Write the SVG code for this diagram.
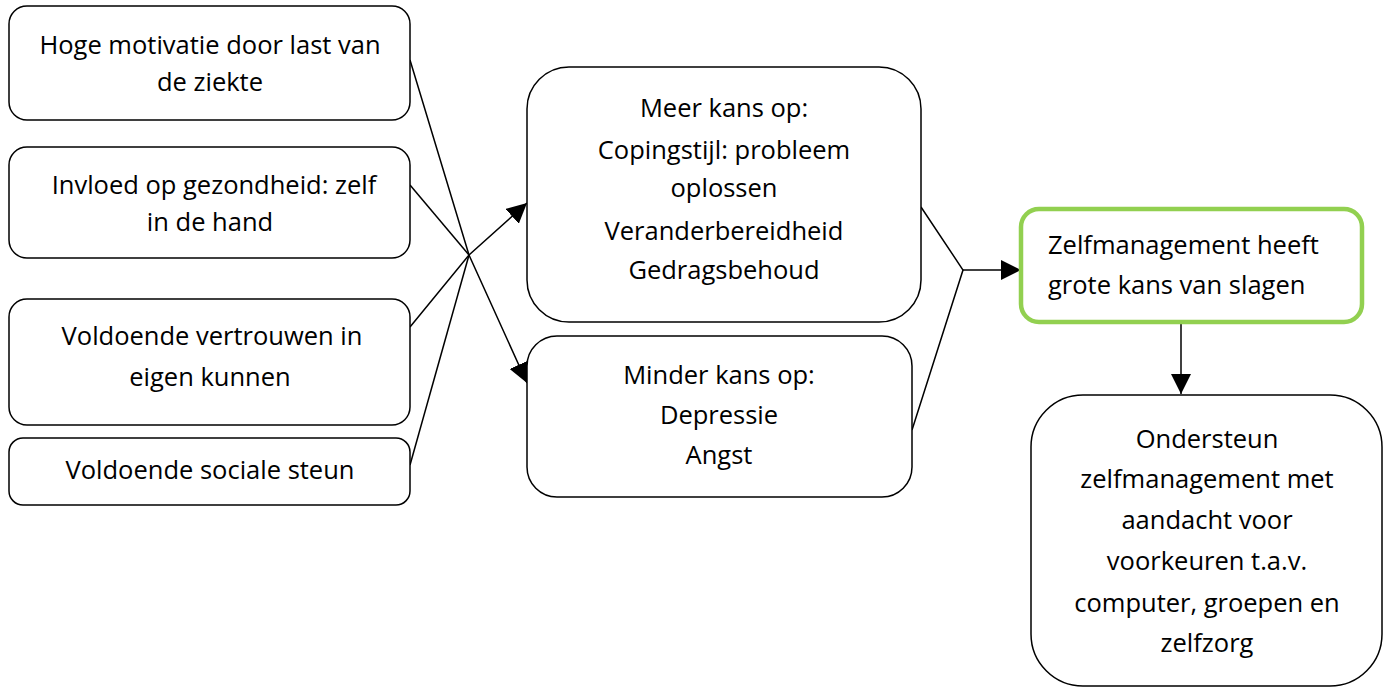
<svg xmlns="http://www.w3.org/2000/svg" width="1387" height="688" viewBox="0 0 1387 688">
<style>
.box{fill:#fff;stroke:#000;stroke-width:1.5}
.green{fill:#fff;stroke:#92D050;stroke-width:4.5}
text{font-family:"Open Sans","Liberation Sans",sans-serif;font-size:25.5px;fill:#000;text-anchor:middle}
.left{text-anchor:start}
.ln{fill:none;stroke:#000;stroke-width:1.5}
</style>
<defs>
<marker id="ah" viewBox="0 0 10 10" refX="10" refY="5" markerWidth="20" markerHeight="20" markerUnits="userSpaceOnUse" orient="auto">
<path d="M0,0 L10,5 L0,10 Z" fill="#000"/>
</marker>
</defs>
<g id="connectors">
<polyline class="ln" points="410,60 469,255 527,383" marker-end="url(#ah)"/>
<polyline class="ln" points="410,327 469,255 527,203" marker-end="url(#ah)"/>
<line class="ln" x1="410" y1="185" x2="469" y2="255"/>
<line class="ln" x1="410" y1="465" x2="469" y2="255"/>
<polyline class="ln" points="921,207 963,270 912,430"/>
<line class="ln" x1="963" y1="270" x2="1021" y2="270" marker-end="url(#ah)"/>
<line class="ln" x1="1181" y1="322" x2="1181" y2="394" marker-end="url(#ah)"/>
</g>
<g id="n1"><rect class="box" x="9" y="6" width="401" height="114" rx="18"/>
<text x="210" y="54">Hoge motivatie door last van</text><text x="210" y="91">de ziekte</text></g>
<g id="n2"><rect class="box" x="9" y="147" width="401" height="111" rx="18"/>
<text x="214" y="194">Invloed op gezondheid: zelf</text><text x="210" y="231">in de hand</text></g>
<g id="n3"><rect class="box" x="9" y="299" width="401" height="126" rx="18"/>
<text x="212" y="345">Voldoende vertrouwen in</text><text x="210" y="386">eigen kunnen</text></g>
<g id="n4"><rect class="box" x="9" y="438" width="401" height="67" rx="14"/>
<text x="210" y="479">Voldoende sociale steun</text></g>
<g id="n5"><rect class="box" x="527" y="67" width="394" height="255" rx="42"/>
<text x="724" y="117">Meer kans op:</text><text x="724" y="159">Copingstijl: probleem</text><text x="724" y="197">oplossen</text><text x="724" y="240">Veranderbereidheid</text><text x="724" y="279">Gedragsbehoud</text></g>
<g id="n6"><rect class="box" x="527" y="336" width="385" height="161" rx="30"/>
<text x="719" y="384">Minder kans op:</text><text x="719" y="424">Depressie</text><text x="719" y="464">Angst</text></g>
<g id="n7"><rect class="green" x="1021" y="209" width="341" height="113" rx="18"/>
<text class="left" x="1048" y="254">Zelfmanagement heeft</text><text class="left" x="1048" y="294">grote kans van slagen</text></g>
<g id="n8"><rect class="box" x="1031" y="395" width="351" height="291" rx="52"/>
<text x="1207" y="448">Ondersteun</text><text x="1207" y="488">zelfmanagement met</text><text x="1207" y="529">aandacht voor</text><text x="1207" y="570">voorkeuren t.a.v.</text><text x="1207" y="612">computer, groepen en</text><text x="1207" y="652">zelfzorg</text></g>
</svg>
